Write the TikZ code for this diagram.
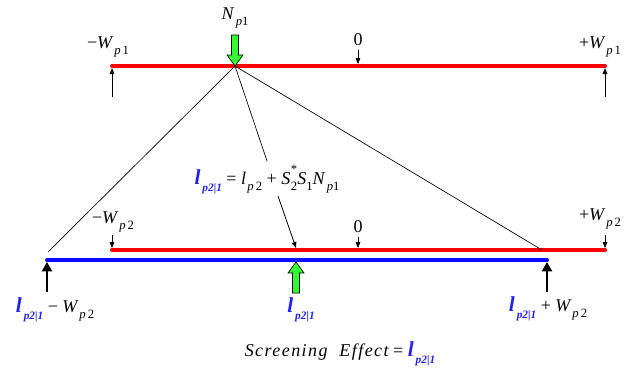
\documentclass[tikz,border=0pt]{standalone}
\usepackage{fontspec}
\setmainfont{Liberation Serif}
\usetikzlibrary{arrows.meta,calc}
\definecolor{BarRed}{HTML}{FF0000}
\definecolor{BarBlue}{HTML}{0A0AFF}
\definecolor{PushGreen}{HTML}{33FF33}
\definecolor{LabelBlue}{HTML}{2222EE}

% lowered index and the recurring symbols
\newcommand{\sbs}[1]{\raisebox{-0.75ex}{\fontsize{9.5}{9.5}\selectfont #1}}
\newcommand{\Wsub}[1]{\textit{W}\kern0.5pt\sbs{\textit{p}\kern1.5pt#1}}
\newcommand{\lcond}{{\color{LabelBlue}\bfseries\itshape\fontsize{16}{16}\selectfont l\kern1.5pt\sbs{\fontsize{8.5}{8.5}\selectfont p2|1}}}

\tikzset{
  greenpush/.pic={
    \draw[line width=0.5pt,fill=PushGreen] (0,0) -- (-8,-11) -- (-3.5,-11) -- (-3.5,-31)
      -- (3.5,-31) -- (3.5,-11) -- (8,-11) -- cycle;
  }
}

\begin{document}
\begin{tikzpicture}[x=0.75pt,y=-0.75pt,
  bar/.style={line width=3pt,line cap=round},
  tick/.style={-{Triangle[length=4.5pt,width=3.5pt]},line width=0.6pt},
  post/.style={-{Triangle[length=7pt,width=7.5pt]},line width=1.6pt},
  guide/.style={line width=0.5pt},
  lbl/.style={font=\fontsize{13.5}{13.5}\selectfont,inner sep=1pt}]
  \useasboundingbox (0,0) rectangle (638,371);

  % bars
  \coordinate (t-l) at (112,66);
  \coordinate (t-r) at (605,66);
  \coordinate (t-0) at (358,66);
  \coordinate (apex) at (235,66);
  \coordinate (b-l) at (112,250);
  \coordinate (b-r) at (605,250);
  \coordinate (b-0) at (358,250);
  \coordinate (u-l) at (47,260);
  \coordinate (u-r) at (547,260);
  \coordinate (u-m) at (296,260);
  \draw[bar,BarRed] (t-l) -- (t-r);
  \draw[bar,BarRed] (b-l) -- (b-r);
  \draw[bar,BarBlue] (u-l) -- (u-r);

  % labels
  \node[lbl] (wl1) at (108,47) {−\Wsub{1}};
  \node[lbl] (zero1) at (358,40) {0};
  \node[lbl] (wr1) at (600,47) {+\Wsub{1}};
  \node[lbl] (np1) at (235,18) {\textit{N}\kern1pt\sbs{\textit{p}1}};
  \node[lbl] (wl2) at (113,222) {−\Wsub{2}};
  \node[lbl] (zero2) at (358,227) {0};
  \node[lbl] (wr2) at (600,219) {+\Wsub{2}};
  \node[lbl] (eq) at (267,180) {\lcond{} = \textit{l}\kern1pt\sbs{\textit{p}\kern1.5pt2} +
    \textit{S}\kern0.5pt\rlap{\raisebox{1.3ex}{\fontsize{9.5}{9.5}\selectfont *}}\sbs{2}\textit{S}\sbs{1}\textit{N}\kern1pt\sbs{\textit{p}1}};
  \node[lbl] (lo-l) at (55,310) {\lcond{} − \Wsub{2}};
  \node[lbl] (lo-m) at (301,310) {\lcond};
  \node[lbl] (lo-r) at (548,309) {\lcond{} + \Wsub{2}};
  \node[lbl] (screen) at (340,354) {{\itshape\addfontfeature{LetterSpace=8}Screening\ \ Effect} = \lcond};

  % limit marks
  \draw[tick,shorten >=1.5pt] ($(t-l)+(0,31)$) -- (t-l);
  \draw[tick,shorten >=1.5pt] ($(t-r)+(0,31)$) -- (t-r);
  \draw[tick,shorten >=1.5pt] ($(t-0)+(0,-16)$) -- (t-0);
  \draw[tick,shorten >=1.5pt] ($(b-l)+(0,-15)$) -- (b-l);
  \draw[tick,shorten >=1.5pt] ($(b-r)+(0,-15)$) -- (b-r);
  \draw[tick,shorten >=1.5pt] ($(b-0)+(0,-13)$) -- (b-0);
  \draw[post,shorten >=1.5pt] ($(u-l)+(0,32)$) -- (u-l);
  \draw[post,shorten >=1.5pt] ($(u-r)+(0,32)$) -- (u-r);

  % projection lines
  \coordinate (eqtop) at (267,161);
  \coordinate (eqbot) at (278,196);
  \coordinate (hit) at (296,248);
  \draw[guide] (apex) -- (48,252);
  \draw[guide] (apex) -- (542,250);
  \draw[guide] (apex) -- (eqtop);
  \draw[tick] (eqbot) -- (hit);

  % loads
  \pic at (apex) {greenpush};
  \pic[rotate=180] at ($(u-m)+(0,2)$) {greenpush};
\end{tikzpicture}
\end{document}
